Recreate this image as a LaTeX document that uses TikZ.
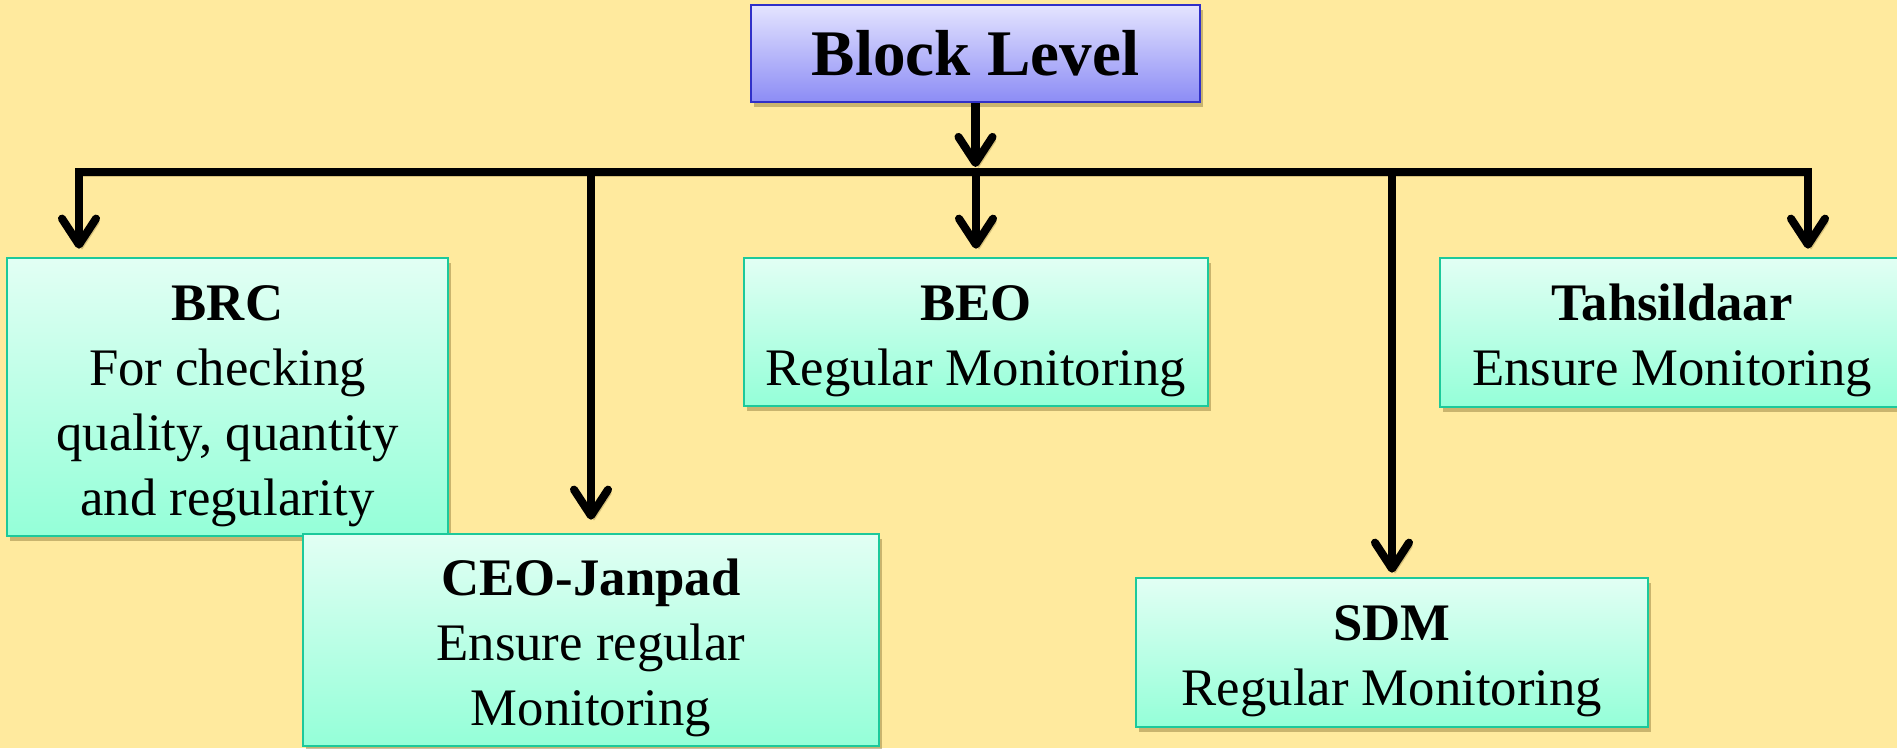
\documentclass[tikz,border=0pt]{standalone}
\usepackage{fontspec}
\setmainfont{Liberation Serif}
\usetikzlibrary{arrows.meta, positioning, shadows, calc}
\definecolor{bgyellow}{RGB}{255,234,158}
\definecolor{minttop}{RGB}{226,255,244}
\definecolor{mintbot}{RGB}{148,255,216}
\definecolor{mintline}{RGB}{28,201,155}
\definecolor{bluetop}{RGB}{228,228,255}
\definecolor{bluebot}{RGB}{140,140,245}
\definecolor{blueline}{RGB}{48,48,200}
\definecolor{shadowbrown}{RGB}{120,100,40}
\newcommand{\boxtitle}[1]{\rule{0pt}{15pt}\textbf{#1}}

\begin{document}
\begin{tikzpicture}[x=0.01cm, y=-0.01cm,
    box/.style={draw=mintline, line width=0.7pt, top color=minttop, bottom color=mintbot,
        align=center, inner sep=0pt, font=\fontsize{15}{18.5}\selectfont,
        drop shadow={shadow xshift=0.03cm, shadow yshift=-0.05cm, fill=shadowbrown, opacity=0.4}},
    topbox/.style={box, draw=blueline, top color=bluetop, bottom color=bluebot,
        font=\fontsize{18.5}{22}\selectfont\bfseries},
    bus/.style={line width=2.3pt, line cap=rect,
        preaction={draw=shadowbrown, opacity=0.3, transform canvas={shift={(0.03cm,-0.04cm)}}}},
    arr/.style={line width=2.3pt, -{Straight Barb[length=2.6mm, width=3.4mm, round]},
        preaction={draw=shadowbrown, opacity=0.3, transform canvas={shift={(0.03cm,-0.04cm)}}}}]

    \useasboundingbox (0,0) rectangle (1897,748);
    \clip (0,0) rectangle (1897,748);
    \fill[bgyellow] (0,0) rectangle (1897,748);

    \node[topbox, minimum width=4.49cm, minimum height=0.97cm] (block) at (975.5,53.5) {Block Level};

    \node[box, minimum width=4.41cm, minimum height=2.78cm] (brc) at (227.5,397)
        {\boxtitle{BRC}\\For checking\\quality, quantity\\and regularity};
    \node[box, minimum width=4.64cm, minimum height=1.48cm] (beo) at (976,332)
        {\boxtitle{BEO}\\Regular Monitoring};
    \node[box, minimum width=4.64cm, minimum height=1.49cm] (tahsildaar) at (1672,332.5)
        {\boxtitle{Tahsildaar}\\Ensure Monitoring};
    \node[box, minimum width=5.76cm, minimum height=2.12cm] (ceo) at (591,640)
        {\boxtitle{CEO-Janpad}\\Ensure regular\\Monitoring};
    \node[box, minimum width=5.12cm, minimum height=1.49cm] (sdm) at (1392,652.5)
        {\boxtitle{SDM}\\Regular Monitoring};

    \coordinate (busL) at (79,172);
    \coordinate (busR) at (1808,172);

    \draw[arr, shorten >=0.05cm] (block.south) -- (block.south |- busL);
    \draw[bus] (busL) -- (busR);

    \draw[arr, shorten >=0.08cm] (busL) -- (busL |- brc.north);
    \draw[arr, shorten >=0.08cm] (beo.north |- busL) -- (beo.north);
    \draw[arr, shorten >=0.08cm] (busR) -- (busR |- tahsildaar.north);
    \draw[arr, shorten >=0.13cm] (ceo.north |- busL) -- (ceo.north);
    \draw[arr, shorten >=0.04cm] (sdm.north |- busL) -- (sdm.north);

\end{tikzpicture}
\end{document}
